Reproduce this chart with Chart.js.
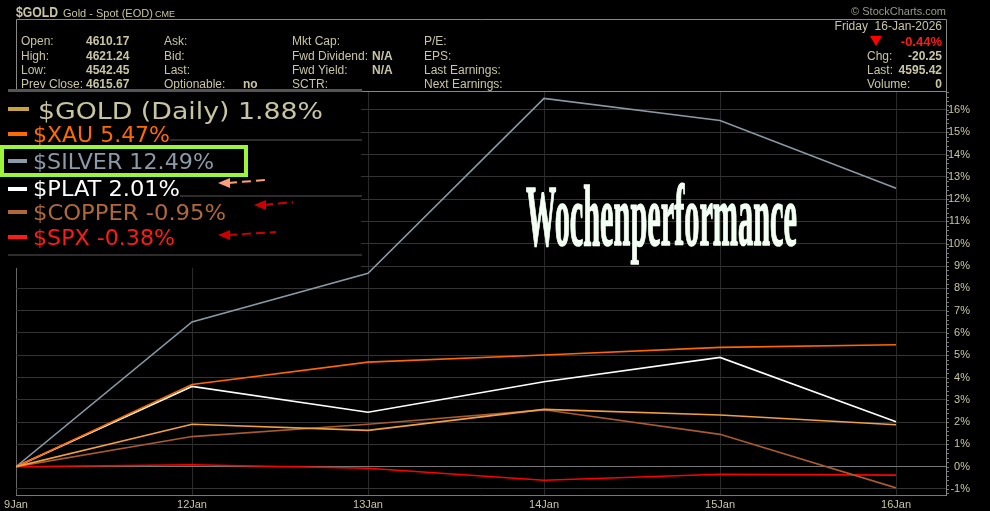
<!DOCTYPE html>
<html>
<head>
<meta charset="utf-8">
<script src="https://cdn.jsdelivr.net/npm/chart.js@4"></script>
<style>
html, body { margin: 0; padding: 0; background: #000; }
canvas { display: block; }
</style>
</head>
<body>
<canvas id="perfChart" width="990" height="511"></canvas>
<script>
// weekly performance in %
const dates = ['9Jan', '12Jan', '13Jan', '14Jan', '15Jan', '16Jan'];
const goldVals = [0, 1.90, 1.63, 2.57, 2.32, 1.88];
const xauVals = [0, 3.69, 4.69, 5.01, 5.35, 5.47];
const silverVals = [0, 6.49, 8.67, 16.52, 15.53, 12.49];
const platVals = [0, 3.60, 2.44, 3.81, 4.90, 2.01];
const copperVals = [0, 1.35, 1.90, 2.55, 1.45, -0.95];
const spxVals = [0, 0.09, -0.07, -0.61, -0.34, -0.38];

const legendLabels = ['$GOLD (Daily) 1.88%', '$XAU 5.47%', '$SILVER 12.49%', '$PLAT 2.01%', '$COPPER -0.95%', '$SPX -0.38%'];

const khaki = '#c9c5a3';

function pts(vals) {
    return vals.map((v, i) => ({ x: i, y: v }));
}

function fitText(ctx, text, x, y, w, font, color, strokeW) {
    ctx.save();
    ctx.font = font;
    const m = ctx.measureText(text).width;
    ctx.translate(x, y);
    ctx.scale(w / m, 1);
    ctx.fillStyle = color;
    ctx.textAlign = 'left';
    ctx.textBaseline = 'alphabetic';
    ctx.fillText(text, 0, 0);
    if (strokeW) {
        ctx.strokeStyle = color;
        ctx.lineWidth = strokeW;
        ctx.lineJoin = 'round';
        ctx.strokeText(text, 0, 0);
    }
    ctx.restore();
}

function txt(ctx, text, x, y, font, color, align) {
    ctx.font = font;
    ctx.fillStyle = color;
    ctx.textAlign = align || 'left';
    ctx.textBaseline = 'alphabetic';
    ctx.fillText(text, x, y);
}

function arrow(ctx, tipX, tipY, endX, endY, color) {
    ctx.save();
    ctx.strokeStyle = color;
    ctx.fillStyle = color;
    ctx.lineWidth = 2;
    ctx.setLineDash([9, 5]);
    ctx.beginPath();
    ctx.moveTo(tipX + 10, tipY);
    ctx.lineTo(endX, endY);
    ctx.stroke();
    ctx.setLineDash([]);
    ctx.beginPath();
    ctx.moveTo(tipX, tipY);
    ctx.lineTo(tipX + 12, tipY - 5);
    ctx.lineTo(tipX + 12, tipY + 5);
    ctx.closePath();
    ctx.fill();
    ctx.restore();
}

const overlay = {
    id: 'overlay',
    beforeDraw(chart) {
        const ctx = chart.ctx;
        ctx.save();
        ctx.fillStyle = '#000';
        ctx.fillRect(0, 0, chart.width, chart.height);
        ctx.restore();
    },
    afterDraw(chart) {
        const ctx = chart.ctx;
        const y = chart.scales.y;
        ctx.save();

        // minor ticks on the right axis
        ctx.strokeStyle = '#777';
        ctx.lineWidth = 1;
        for (let v = -1.2; v <= 16.8; v += 0.2) {
            const py = Math.round(y.getPixelForValue(v)) + 0.5;
            ctx.beginPath();
            ctx.moveTo(947, py);
            ctx.lineTo(949, py);
            ctx.stroke();
        }

        // header
        fitText(ctx, '$GOLD', 16, 17, 42, 'bold 14px "Liberation Sans"', khaki);
        txt(ctx, 'Gold - Spot (EOD)', 63, 17, '11px "Liberation Sans"', khaki);
        txt(ctx, 'CME', 155, 17, '9px "Liberation Sans"', khaki);
        txt(ctx, '\u00A9 StockCharts.com', 946, 15, '11px "Liberation Sans"', '#9a9a8a', 'right');

        ctx.strokeStyle = '#888';
        ctx.lineWidth = 1;
        ctx.beginPath();
        ctx.moveTo(16.5, 91);
        ctx.lineTo(16.5, 19.5);
        ctx.lineTo(946.5, 19.5);
        ctx.lineTo(946.5, 91);
        ctx.stroke();
        ctx.beginPath();
        ctx.moveTo(16, 91.5);
        ctx.lineTo(946, 91.5);
        ctx.stroke();

        const f = '12px "Liberation Sans"';
        const fb = 'bold 12px "Liberation Sans"';
        const rows = [45, 60, 74, 88];
        ['Open:', 'High:', 'Low:', 'Prev Close:'].forEach((t, i) => txt(ctx, t, 21, rows[i], f, khaki));
        ['4610.17', '4621.24', '4542.45', '4615.67'].forEach((t, i) => txt(ctx, t, 86, rows[i], fb, khaki));
        ['Ask:', 'Bid:', 'Last:', 'Optionable:'].forEach((t, i) => txt(ctx, t, 164, rows[i], f, khaki));
        txt(ctx, 'no', 243, rows[3], fb, khaki);
        ['Mkt Cap:', 'Fwd Dividend:', 'Fwd Yield:', 'SCTR:'].forEach((t, i) => txt(ctx, t, 292, rows[i], f, khaki));
        txt(ctx, 'N/A', 372, rows[1], fb, khaki);
        txt(ctx, 'N/A', 372, rows[2], fb, khaki);
        ['P/E:', 'EPS:', 'Last Earnings:', 'Next Earnings:'].forEach((t, i) => txt(ctx, t, 424, rows[i], f, khaki));

        txt(ctx, 'Friday  16-Jan-2026', 942, 30, f, khaki, 'right');
        ctx.fillStyle = '#ff0000';
        ctx.beginPath();
        ctx.moveTo(870, 36);
        ctx.lineTo(882, 36);
        ctx.lineTo(876, 46);
        ctx.closePath();
        ctx.fill();
        txt(ctx, '-0.44%', 942, 46, 'bold 13px "Liberation Sans"', '#ff1a1a', 'right');
        txt(ctx, 'Chg:', 867, 60, f, khaki);
        txt(ctx, '-20.25', 942, 60, fb, khaki, 'right');
        txt(ctx, 'Last:', 867, 74, f, khaki);
        txt(ctx, '4595.42', 942, 74, fb, khaki, 'right');
        txt(ctx, 'Volume:', 867, 88, f, khaki);
        txt(ctx, '0', 942, 88, fb, khaki, 'right');

        // legend panel
        ctx.fillStyle = '#000';
        ctx.fillRect(0, 92, 361, 176);
        ctx.fillStyle = '#555';
        ctx.fillRect(8, 89, 354, 3);
        ctx.fillStyle = '#2c2c2c';
        ctx.fillRect(170, 139, 192, 2);
        ctx.fillRect(180, 195, 182, 2);
        ctx.fillRect(8, 254, 354, 2);

        const legendColors = ['#c8c4a0', '#ff6a00', '#8a9aa8', '#ffffff', '#b0683a', '#ff1a1a'];
        const swatchColors = ['#c8a43c', '#ff6a00', '#8a9aa8', '#ffffff', '#b0683a', '#ff1a1a'];
        const legY = [119, 142, 169, 196, 220, 245];
        const legW = [285, 137, 181, 147, 193, 142];
        const legX = [38, 33, 33, 33, 33, 33];
        const swY = [109, 134, 161, 189, 212, 237];
        legendLabels.forEach((t, i) => {
            ctx.fillStyle = swatchColors[i];
            ctx.fillRect(8, swY[i] - 2, i === 0 ? 21 : 19, 4);
            fitText(ctx, t, legX[i], legY[i], legW[i], (i === 0 ? '23px' : '22px') + ' "DejaVu Sans"', legendColors[i]);
        });

        // green box round silver
        ctx.strokeStyle = '#9cf53a';
        ctx.lineWidth = 4;
        ctx.strokeRect(2, 147, 244, 28);

        arrow(ctx, 218, 183, 265, 180, '#ff9f7a');
        arrow(ctx, 254, 205, 293, 202, '#cc0000');
        arrow(ctx, 218, 235, 276, 232, '#cc0000');

        // title
        fitText(ctx, 'Wochenperformance', 526, 245, 271, 'bold 86px "Liberation Serif"', '#f2fff2', 1.6);

        ctx.restore();
    }
};

new Chart(document.getElementById('perfChart'), {
    type: 'line',
    data: {
        datasets: [
            { label: '$GOLD', data: pts(goldVals), borderColor: '#f0a040' },
            { label: '$XAU', data: pts(xauVals), borderColor: '#ff6600' },
            { label: '$SILVER', data: pts(silverVals), borderColor: '#8899a5' },
            { label: '$PLAT', data: pts(platVals), borderColor: '#ffffff' },
            { label: '$COPPER', data: pts(copperVals), borderColor: '#a85a30' },
            { label: '$SPX', data: pts(spxVals), borderColor: '#ff0000' }
        ].map(d => Object.assign(d, { borderWidth: 1.6, pointRadius: 0, tension: 0, fill: false }))
    },
    options: {
        responsive: false,
        animation: false,
        events: [],
        layout: { padding: { left: 16, top: 91, right: 20, bottom: 0 } },
        plugins: {
            legend: { display: false },
            tooltip: { enabled: false }
        },
        scales: {
            x: {
                type: 'linear',
                min: 0,
                max: 5.284,
                afterFit(s) { s.height = 16; s.paddingLeft = 0; s.paddingRight = 0; },
                border: { display: true, color: '#777' },
                grid: {
                    drawTicks: false,
                    color: c => c.tick && c.tick.value === 0 ? '#666' : '#2a2a2a'
                },
                ticks: {
                    stepSize: 1,
                    includeBounds: false,
                    autoSkip: false,
                    maxRotation: 0,
                    padding: 3,
                    color: khaki,
                    font: { family: 'Liberation Sans', size: 11 },
                    callback: v => dates[v]
                }
            },
            y: {
                position: 'right',
                min: -1.27,
                max: 16.85,
                afterFit(s) { s.width = 24; s.paddingTop = 0; s.paddingBottom = 0; },
                border: { display: true, color: '#888' },
                grid: {
                    drawTicks: false,
                    color: c => c.tick && c.tick.value === 0 ? '#777' : '#333'
                },
                ticks: {
                    stepSize: 1,
                    includeBounds: false,
                    padding: 4,
                    crossAlign: 'far',
                    color: khaki,
                    font: { family: 'Liberation Sans', size: 11 },
                    callback: v => v + '%'
                }
            }
        }
    },
    plugins: [overlay]
});
</script>
</body>
</html>
